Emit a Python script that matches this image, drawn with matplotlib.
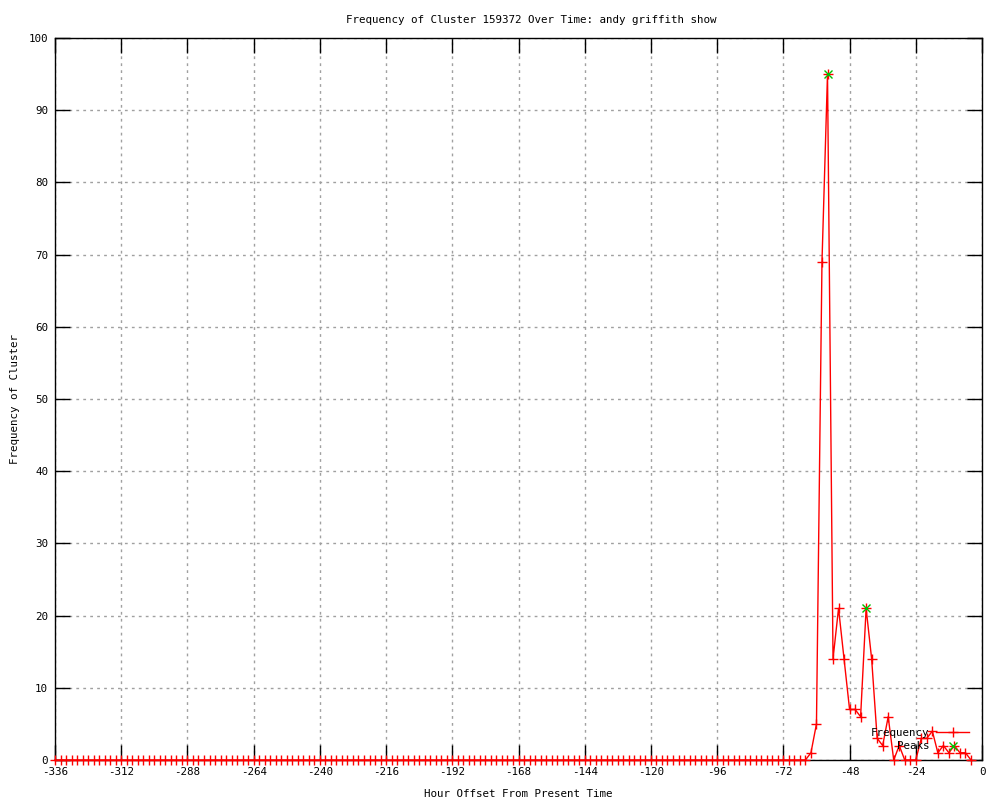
import matplotlib
matplotlib.use("Agg")
import matplotlib.pyplot as plt
from matplotlib.lines import Line2D

# ---- data ----
hours = list(range(-336, -2, 2))          # bin positions (hours from now)
freq = [0] * 137 + [1, 5, 69, 95, 14, 21, 14, 7, 7, 6, 21, 14, 3, 2, 6,
                    0, 2, 0, 0, 0, 3, 3, 4, 1, 2, 1, 2, 1, 1, 0]
peak_hours = [-56, -42]
peak_vals = [95, 21]
x_ticks = list(range(-336, 1, 24))
y_ticks = list(range(0, 101, 10))
title = "Frequency of Cluster 159372 Over Time: andy griffith show"
xlabel = "Hour Offset From Present Time"
ylabel = "Frequency of Cluster"

plt.rcParams['font.family'] = ['DejaVu Sans Mono']
plt.rcParams['axes.unicode_minus'] = False
FS = 7.8

fig = plt.figure(figsize=(10, 8), dpi=100)
ax = fig.add_axes([0.055, 0.05, 0.927, 0.9025])

ax.plot(hours, freq, color='#ff0000', lw=1.0, marker='+', ms=7, mew=1.0,
        clip_on=False, zorder=3, label='Frequency')
ax.plot(peak_hours, peak_vals, ls='none', marker='x', color='#00c000',
        ms=6, mew=1.0, clip_on=False, zorder=4, label='Peaks')

ax.set_xlim(-336, 0)
ax.set_ylim(0, 100)
ax.set_xticks(x_ticks)
ax.set_yticks(y_ticks)
ax.tick_params(direction='in', length=11, width=1, top=True, right=True,
               labelsize=FS, pad=5, colors='black')
ax.grid(True, color='#a0a0a0', linestyle=(0, (2, 3)), lw=1)
for s in ax.spines.values():
    s.set_linewidth(1)
    s.set_color('black')

ax.set_title(title, fontsize=FS, pad=11, x=0.5135)
ax.set_xlabel(xlabel, fontsize=FS, labelpad=9)
ax.set_ylabel(ylabel, fontsize=FS, labelpad=6)

handles = [Line2D([], [], color='#ff0000', lw=1.0, marker='+', ms=7),
           Line2D([], [], ls='none', color='#00c000', marker='x', ms=6)]
leg = ax.legend(handles, ['Frequency', 'Peaks'], loc='lower right',
                bbox_to_anchor=(0.9946, 0.0015), frameon=False,
                markerfirst=False, fontsize=FS, handlelength=3.05,
                handletextpad=0.65, labelspacing=0.35, borderpad=0.2)

fig.savefig('out.png', dpi=100)
